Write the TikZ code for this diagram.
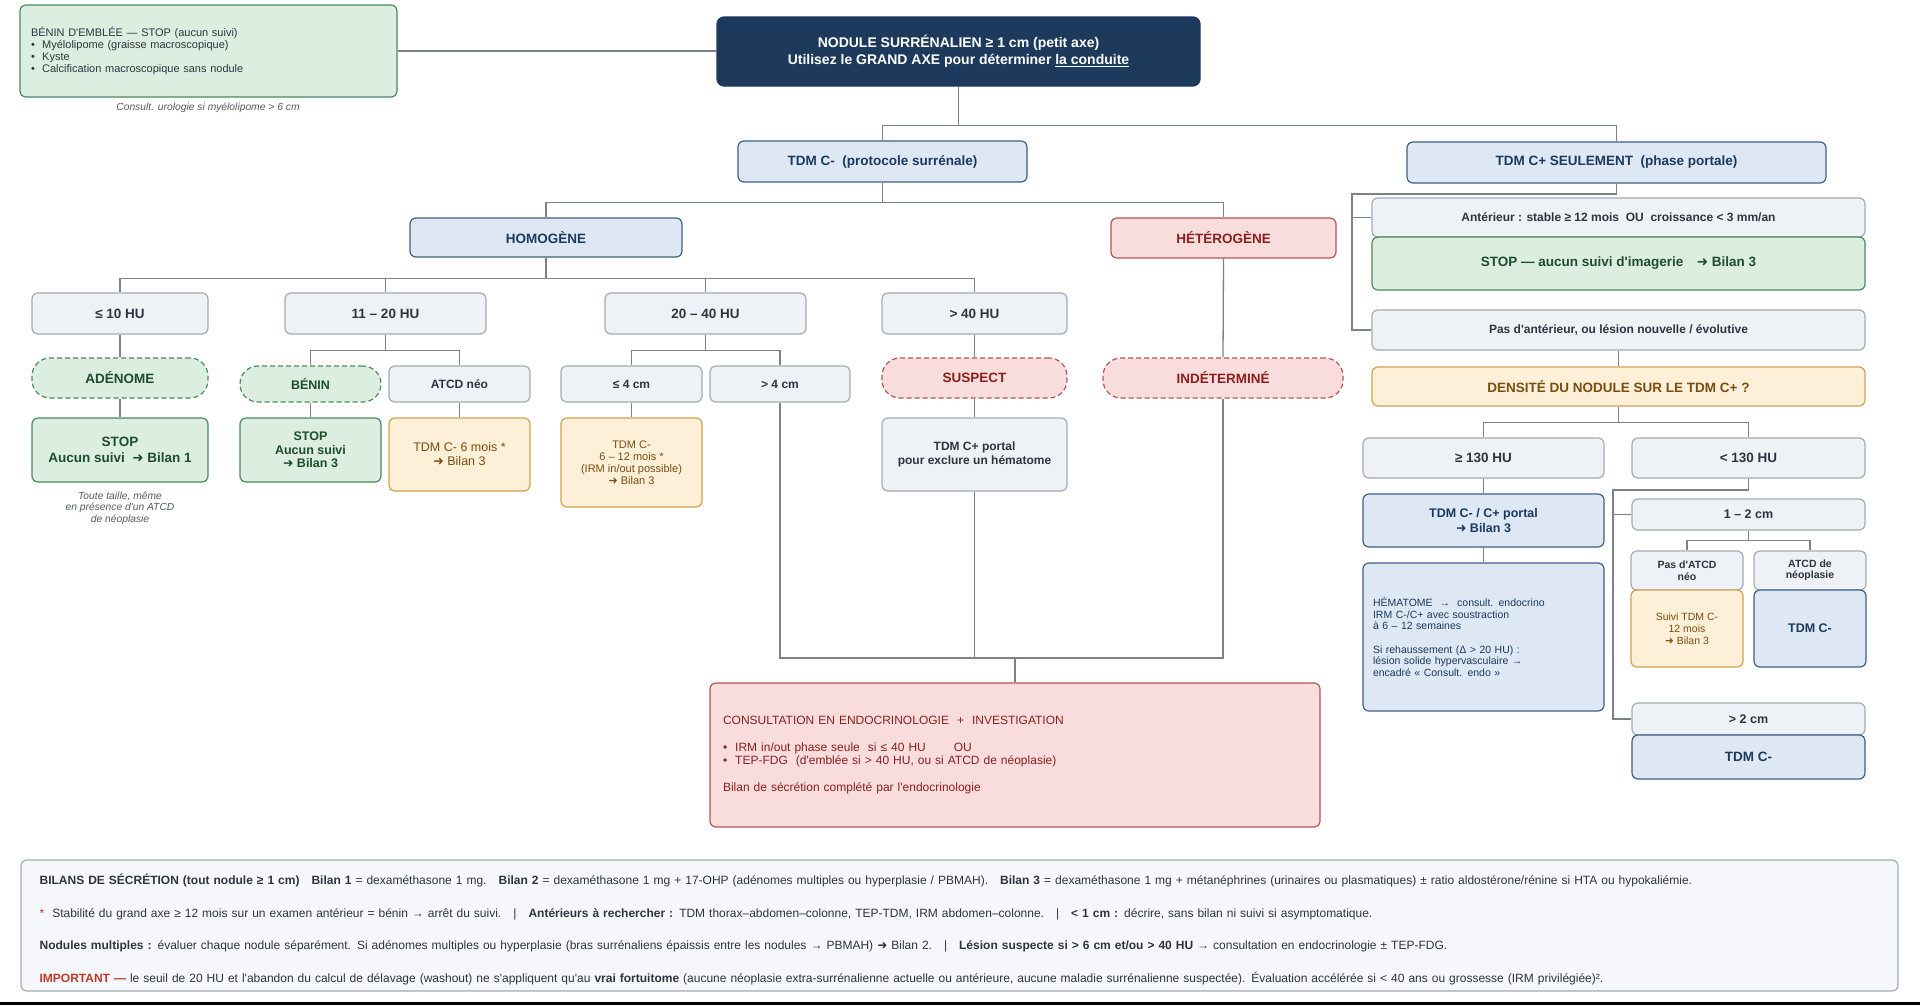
\documentclass[tikz,border=0pt]{standalone}
\usepackage{fontspec}
\setmainfont{Liberation Sans}[Ligatures=TeXOff]
\newfontfamily\symfont{DejaVu Sans}
\usepackage{tikz}

\definecolor{cNavy}{HTML}{1D3A5C}
\definecolor{cWire}{HTML}{7D8288}
\definecolor{cGrayFl}{HTML}{EEF1F5}
\definecolor{cGrayBd}{HTML}{A3ABB4}
\definecolor{cGrayTx}{HTML}{2E3540}
\definecolor{cBlueFl}{HTML}{DDE8F4}
\definecolor{cBlueBd}{HTML}{3E5F82}
\definecolor{cGreenFl}{HTML}{DBEEE0}
\definecolor{cGreenBd}{HTML}{4C8A5C}
\definecolor{cGreenTx}{HTML}{1E4D2B}
\definecolor{cOrangeFl}{HTML}{FDEFD8}
\definecolor{cOrangeBd}{HTML}{D2A24E}
\definecolor{cOrangeTx}{HTML}{7A4D10}
\definecolor{cRedFl}{HTML}{F9DCDC}
\definecolor{cRedBd}{HTML}{B15555}
\definecolor{cRedTx}{HTML}{8A1F1F}
\definecolor{cLegFl}{HTML}{F5F7FA}
\definecolor{cNote}{HTML}{555A60}
\definecolor{cImp}{HTML}{C0392B}

\newcommand{\arr}{{\symfont ➜}}
\newcommand{\fs}[2]{\fontsize{#1}{#2}\selectfont}

\tikzset{
  wire/.style={draw=cWire, line width=1.3pt},
  sz/.style 2 args={minimum width=#1pt, minimum height=#2pt},
  base/.style={rounded corners=6pt, line width=1.2pt, align=center, inner sep=3pt, font=\bfseries\fs{13.5}{15.5}},
  graybox/.style={base, draw=cGrayBd, fill=cGrayFl, text=cGrayTx},
  bluebox/.style={base, draw=cBlueBd, fill=cBlueFl, text=cNavy},
  greenbox/.style={base, draw=cGreenBd, fill=cGreenFl, text=cGreenTx},
  orangebox/.style={base, draw=cOrangeBd, fill=cOrangeFl, text=cOrangeTx},
  redbox/.style={base, draw=cRedBd, fill=cRedFl, text=cRedTx},
  greendash/.style={greenbox, dash pattern=on 5pt off 3pt, rounded corners=18pt},
  reddash/.style={redbox, dash pattern=on 5pt off 3pt, rounded corners=18pt},
  navybox/.style={base, draw=cNavy, fill=cNavy, text=white, rounded corners=7pt},
  note/.style={font=\itshape\fs{10.3}{11.5}, text=cNote, align=center}
}

\begin{document}
\begin{tikzpicture}[x=1pt, y=-1pt]

\fill[white] (0,0) rectangle (1920,1005);
\useasboundingbox (0,0) rectangle (1920,1005);

% top nodes

\node[greenbox, sz={377}{92}, text width=355pt, inner xsep=11pt, align=left, font=\fs{11}{12}, text=cGrayTx] (benin) at (208.5,51) {BÉNIN D'EMBLÉE — STOP (aucun suivi)\\• \ Myélolipome (graisse macroscopique)\\• \ Kyste\\• \ Calcification macroscopique sans nodule};
\node[note] (uro) at (208,108) {Consult. urologie si myélolipome > 6 cm};
\node[navybox, sz={483}{69}, font=\bfseries\fs{14}{17}] (title) at (958.5,51.5) {NODULE SURRÉNALIEN ≥ 1 cm (petit axe)\\Utilisez le GRAND AXE pour déterminer \underline{la conduite}};

\node[bluebox, sz={289}{41}] (tdmc) at (882.5,161.5) {TDM C-\ \ (protocole surrénale)};
\node[bluebox, sz={419}{41}] (tdmcp) at (1616.5,162.5) {TDM C+ SEULEMENT\ \ (phase portale)};

% left branch : TDM C-

\node[bluebox, sz={272}{39}] (homog) at (546,237.5) {HOMOGÈNE};
\node[redbox, sz={225}{40}] (hetero) at (1223.5,238) {HÉTÉROGÈNE};

\node[graybox, sz={176}{41}] (hu10) at (120,313.5) {≤ 10 HU};
\node[graybox, sz={201}{41}] (hu20) at (385.5,313.5) {11 – 20 HU};
\node[graybox, sz={201}{41}] (hu40) at (705.5,313.5) {20 – 40 HU};
\node[graybox, sz={185}{41}] (hugt) at (974.5,313.5) {> 40 HU};

\node[greendash, sz={176}{40}] (adenome) at (120,378) {ADÉNOME};
\node[greendash, sz={141}{36}, font=\bfseries\fs{12.5}{14}] (beninn) at (310.5,384) {BÉNIN};
\node[graybox, sz={141}{36}, font=\bfseries\fs{12}{14}] (atcdneo) at (459.5,384) {ATCD néo};
\node[graybox, sz={141}{36}, font=\bfseries\fs{12}{14}] (le4) at (631.5,384) {≤ 4 cm};
\node[graybox, sz={140}{36}, font=\bfseries\fs{12}{14}] (gt4) at (780,384) {> 4 cm};
\node[reddash, sz={185}{40}] (suspect) at (974.5,378) {SUSPECT};
\node[reddash, sz={240}{40}] (indet) at (1223,378) {INDÉTERMINÉ};

\node[greenbox, sz={176}{64}, font=\bfseries\fs{13.5}{16}] (stop1) at (120,450) {STOP\\Aucun suivi\ \ \arr\ Bilan 1};
\node[greenbox, sz={141}{64}, font=\bfseries\fs{12.5}{13.5}] (stop3) at (310.5,450) {STOP\\Aucun suivi\\\arr\ Bilan 3};
\node[orangebox, sz={141}{73}, font=\fs{12.5}{14}] (tdm6) at (459.5,454.5) {TDM C- 6 mois *\\\arr\ Bilan 3};
\node[orangebox, sz={141}{89}, font=\fs{11}{12}] (tdm612) at (631.5,462.5) {TDM C-\\6 – 12 mois *\\(IRM in/out possible)\\\arr\ Bilan 3};
\node[graybox, sz={185}{73}, font=\bfseries\fs{12}{14}] (tdmportal) at (974.5,454.5) {TDM C+ portal\\pour exclure un hématome};
\node[note] (toute) at (120,508) {Toute taille, même\\en présence d'un ATCD\\de néoplasie};

\node[redbox, sz={610}{144}, text width=584pt, inner xsep=13pt, align=left, font=\fs{12}{13}] (consult) at (1015,755) {CONSULTATION EN ENDOCRINOLOGIE\ \ +\ \ INVESTIGATION\\[14pt]• \ IRM in/out phase seule\ \ si ≤ 40 HU\hspace{28pt}OU\\• \ TEP-FDG\ \ (d'emblée si > 40 HU, ou si ATCD de néoplasie)\\[14pt]Bilan de sécrétion complété par l'endocrinologie};

% right branch : TDM C+

\node[graybox, sz={493}{39}, font=\bfseries\fs{12}{14}] (ant) at (1618.5,217.5) {Antérieur : stable ≥ 12 mois\ \ OU\ \ croissance < 3 mm/an};
\node[greenbox, sz={493}{53}] (stopimg) at (1618.5,263.5) {STOP — aucun suivi d'imagerie\quad\arr\ Bilan 3};
\node[graybox, sz={493}{40}, font=\bfseries\fs{12}{14}] (pasant) at (1618.5,330) {Pas d'antérieur, ou lésion nouvelle / évolutive};
\node[orangebox, sz={493}{39}] (densite) at (1618.5,386.5) {DENSITÉ DU NODULE SUR LE TDM C+ ?};

\node[graybox, sz={241}{40}] (hu130) at (1483.5,458) {≥ 130 HU};
\node[graybox, sz={233}{40}] (hu130l) at (1748.5,458) {< 130 HU};

\node[bluebox, sz={241}{53}, font=\bfseries\fs{12.5}{14.5}] (tdmcc) at (1483.5,520.5) {TDM C- / C+ portal\\\arr\ Bilan 3};
\node[bluebox, sz={241}{148}, text width=221pt, inner xsep=10pt, align=left, font=\fs{10.5}{11.5}] (hemat) at (1483.5,637) {HÉMATOME\ \ →\ \ consult. endocrino\\IRM C-/C+ avec soustraction\\à 6 – 12 semaines\\[12pt]Si rehaussement (Δ > 20 HU) :\\lésion solide hypervasculaire →\\encadré « Consult. endo »};

\node[graybox, sz={233}{31}, font=\bfseries\fs{12.5}{14}] (cm12) at (1748.5,514.5) {1 – 2 cm};
\node[graybox, sz={112}{39}, font=\bfseries\fs{10.5}{11.5}] (pasatcd) at (1687,570.5) {Pas d'ATCD\\néo};
\node[graybox, sz={112}{39}, font=\bfseries\fs{10.5}{11.5}] (atcdneop) at (1810,570.5) {ATCD de\\néoplasie};
\node[orangebox, sz={112}{77}, font=\fs{10.5}{12}] (suivi) at (1687,628.5) {Suivi TDM C-\\12 mois\\\arr\ Bilan 3};
\node[bluebox, sz={112}{77}, font=\bfseries\fs{12.5}{14}] (tdmcm) at (1810,628.5) {TDM C-};
\node[graybox, sz={233}{32}, font=\bfseries\fs{12.5}{14}] (cm2) at (1748.5,719) {> 2 cm};
\node[bluebox, sz={233}{44}] (tdmcm2) at (1748.5,757) {TDM C-};

% legend

\node[base, draw=cGrayBd, fill=cLegFl, sz={1877}{131}] (legend) at (959.5,925.5) {};
\node[anchor=west, text width=1839pt, inner sep=0pt, align=left, text=cGrayTx, font=\fs{12}{32.4}] (legtext) at ([xshift=19pt, yshift=-4pt]legend.west) {\textbf{BILANS DE SÉCRÉTION (tout nodule ≥ 1 cm)}\ \ \ \textbf{Bilan 1} = dexaméthasone 1 mg.\ \ \ \textbf{Bilan 2} = dexaméthasone 1 mg + 17-OHP (adénomes multiples ou hyperplasie / PBMAH).\ \ \ \textbf{Bilan 3} = dexaméthasone 1 mg + métanéphrines (urinaires ou plasmatiques) ± ratio aldostérone/rénine si HTA ou hypokaliémie.\\
{\color{cImp}*}\ \ Stabilité du grand axe ≥ 12 mois sur un examen antérieur = bénin → arrêt du suivi.\ \ \ |\ \ \ \textbf{Antérieurs à rechercher :} TDM thorax–abdomen–colonne, TEP-TDM, IRM abdomen–colonne.\ \ \ |\ \ \ \textbf{< 1 cm :} décrire, sans bilan ni suivi si asymptomatique.\\
\textbf{Nodules multiples :} évaluer chaque nodule séparément. Si adénomes multiples ou hyperplasie (bras surrénaliens épaissis entre les nodules → PBMAH) \arr\ Bilan 2.\ \ \ |\ \ \ \textbf{Lésion suspecte si > 6 cm et/ou > 40 HU} → consultation en endocrinologie ± TEP-FDG.\\
{\color{cImp}\textbf{IMPORTANT —}} le seuil de 20 HU et l'abandon du calcul de délavage (washout) ne s'appliquent qu'au \textbf{vrai fortuitome} (aucune néoplasie extra-surrénalienne actuelle ou antérieure, aucune maladie surrénalienne suspectée). Évaluation accélérée si < 40 ans ou grossesse (IRM privilégiée)².};

\fill[black] (0,1002) rectangle (1920,1005);

% junction points
\coordinate (rail1) at (1352,194);
\coordinate (rail2) at (1613,490);
\coordinate (merge) at (1015,658);

% top links
\draw[wire] (benin.east) -- (benin.east -| title.west);
\draw[wire] (title.south) -- ++(0,39) -| (tdmc.north);
\draw[wire] (title.south) -- ++(0,39) -| (tdmcp.north);

% TDM C- links
\draw[wire] (tdmc.south) -- ++(0,20) -| (homog.north);
\draw[wire] (tdmc.south) -- ++(0,20) -| (hetero.north);

\draw[wire] (homog.south) -- ++(0,21) -| (hu10.north);
\draw[wire] (homog.south) -- ++(0,21) -| (hu20.north);
\draw[wire] (homog.south) -- ++(0,21) -| (hu40.north);
\draw[wire] (homog.south) -- ++(0,21) -| (hugt.north);

\draw[wire] (hu10.south) -- (adenome.north);
\draw[wire] (adenome.south) -- (stop1.north);

\draw[wire] (hu20.south) -- ++(0,16) -| (beninn.north);
\draw[wire] (hu20.south) -- ++(0,16) -| (atcdneo.north);
\draw[wire] (beninn.south) -- (stop3.north);
\draw[wire] (atcdneo.south) -- (tdm6.north);

\draw[wire] (hu40.south) -- ++(0,16) -| (le4.north);
\draw[wire] (hu40.south) -- ++(0,16) -| (gt4.north);
\draw[wire] (le4.south) -- (tdm612.north);

\draw[wire] (hugt.south) -- (suspect.north);
\draw[wire] (suspect.south) -- (tdmportal.north);

\draw[wire] (hetero.south) -- (indet.north);

\draw[wire] (gt4.south) |- (merge);
\draw[wire] (tdmportal.south) |- (merge);
\draw[wire] (indet.south) |- (merge);
\draw[wire] (merge) -- (consult.north);

% TDM C+ links
\draw[wire] (tdmcp.south) |- (rail1) |- (ant.west);
\draw[wire] (rail1) |- (pasant.west);
\draw[wire] (pasant.south) -- (densite.north);

\draw[wire] (densite.south) -- ++(0,16) -| (hu130.north);
\draw[wire] (densite.south) -- ++(0,16) -| (hu130l.north);
\draw[wire] (hu130.south) -- (tdmcc.north);
\draw[wire] (tdmcc.south) -- (hemat.north);

\draw[wire] (hu130l.south) |- (rail2) |- (cm12.west);
\draw[wire] (rail2) |- (cm2.west);
\draw[wire] (cm12.south) -- ++(0,10) -| (pasatcd.north);
\draw[wire] (cm12.south) -- ++(0,10) -| (atcdneop.north);

\end{tikzpicture}
\end{document}
